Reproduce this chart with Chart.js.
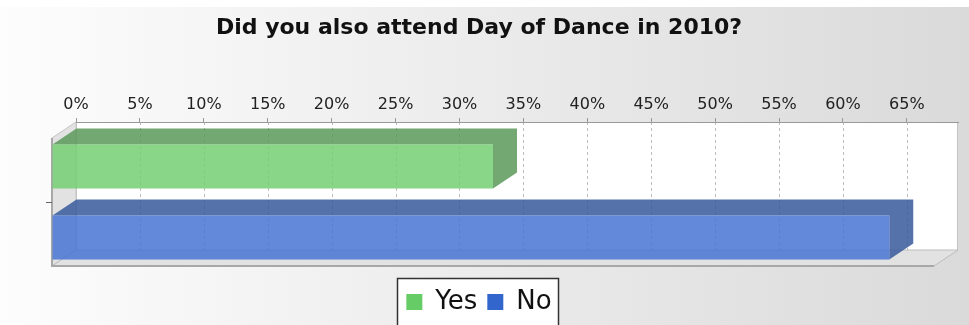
<!DOCTYPE html>
<html>
<head>
<meta charset="utf-8">
<script src="https://cdn.jsdelivr.net/npm/chart.js@4/dist/chart.umd.min.js"></script>
<style>
  html, body { margin: 0; padding: 0; background: #fff; }
</style>
</head>
<body>
<canvas id="attendChart" width="969" height="325"></canvas>
<script>
// survey answers and their share of responses (%)
const answers = ['Yes', 'No'];
const percents = [34.5, 65.5];
const tickValues = [0, 5, 10, 15, 20, 25, 30, 35, 40, 45, 50, 55, 60, 65];

const keyColors = ['#66cc66', '#3366cc'];
const frontColors = ['rgba(116, 207, 116, 0.85)', 'rgba(72, 116, 211, 0.85)'];
const shadeColors = ['rgba(91, 153, 91, 0.85)', 'rgba(55, 90, 155, 0.85)'];

// depth of the fake 3d box
const DX = 24, DY = 16;

function poly(ctx, pts, fill, stroke) {
  ctx.beginPath();
  pts.forEach((p, i) => i ? ctx.lineTo(p[0], p[1]) : ctx.moveTo(p[0], p[1]));
  ctx.closePath();
  if (fill) { ctx.fillStyle = fill; ctx.fill(); }
  if (stroke) { ctx.strokeStyle = stroke; ctx.stroke(); }
}

const box3d = {
  id: 'box3d',
  beforeDraw(chart) {
    const { ctx, width, height, chartArea: a } = chart;
    ctx.save();
    ctx.fillStyle = '#fff';
    ctx.fillRect(0, 0, width, height);
    const g = ctx.createLinearGradient(0, 0, width, 0);
    g.addColorStop(0, '#fdfdfd');
    g.addColorStop(1, '#dadada');
    ctx.fillStyle = g;
    ctx.fillRect(0, 7, width, height - 7);

    // back wall
    ctx.lineWidth = 1;
    ctx.fillStyle = '#fff';
    ctx.fillRect(a.left, a.top, a.right - a.left, a.bottom - a.top);
    ctx.strokeStyle = '#c4c4c4';
    ctx.strokeRect(a.left + 0.5, a.top + 0.5, a.right - a.left - 1, a.bottom - a.top);

    // dashed grid on the back wall
    const xs = chart.scales.x;
    ctx.setLineDash([3, 3]);
    ctx.strokeStyle = '#bdbdbd';
    tickValues.forEach(v => {
      if (v === 0) return;
      const px = Math.round(xs.getPixelForValue(v)) + 0.5;
      ctx.beginPath();
      ctx.moveTo(px, a.top);
      ctx.lineTo(px, a.bottom);
      ctx.stroke();
    });
    ctx.setLineDash([]);

    // left wall and floor
    poly(ctx, [[a.left - DX, a.top + DY], [a.left, a.top], [a.left, a.bottom], [a.left - DX, a.bottom + DY]], '#e2e2e2', '#c4c4c4');
    poly(ctx, [[a.left - DX, a.bottom + DY], [a.right - DX, a.bottom + DY], [a.right, a.bottom], [a.left, a.bottom]], '#e2e2e2', '#bdbdbd');
    ctx.strokeStyle = '#a8a8a8';
    ctx.lineWidth = 2;
    ctx.beginPath();
    ctx.moveTo(a.left - DX, a.top + DY);
    ctx.lineTo(a.left - DX, a.bottom + DY);
    ctx.lineTo(a.right - DX, a.bottom + DY);
    ctx.stroke();

    // category tick on the front edge
    const ys = chart.scales.y;
    const ty = Math.round(ys.getPixelForValue(0) + DY) + 0.5;
    ctx.lineWidth = 1;
    ctx.strokeStyle = '#666';
    ctx.beginPath();
    ctx.moveTo(a.left - DX - 6, ty);
    ctx.lineTo(a.left - DX, ty);
    ctx.stroke();

    // frame around the legend
    const hb = chart.legend.legendHitBoxes;
    if (hb && hb.length) {
      const last = hb[hb.length - 1];
      const l = Math.round(hb[0].left - 9) + 0.5;
      const r = Math.round(last.left + last.width + 6) + 0.5;
      const t = Math.round(hb[0].top - 11) + 0.5;
      ctx.fillStyle = '#fff';
      ctx.fillRect(l, t, r - l, height - t + 5);
      ctx.strokeStyle = '#333';
      ctx.lineWidth = 1.5;
      ctx.strokeRect(l, t, r - l, height - t + 5);
    }
    ctx.restore();
  },
  beforeDatasetsDraw(chart) {
    const ctx = chart.ctx;
    ctx.save();
    chart.data.datasets.forEach((ds, i) => {
      chart.getDatasetMeta(i).data.forEach(bar => {
        const { x, y, base, height: h } = bar.getProps(['x', 'y', 'base', 'height'], true);
        const top = y - h / 2, bot = y + h / 2;
        // top and end faces
        poly(ctx, [[base, top], [x, top], [x, bot], [x - DX, bot + DY], [x - DX, top + DY], [base - DX, top + DY]], shadeColors[i]);
        // front face
        ctx.fillStyle = frontColors[i];
        ctx.fillRect(base - DX, top + DY, x - base, h);
      });
    });
    ctx.restore();
    return false;
  }
};

new Chart(document.getElementById('attendChart'), {
  type: 'bar',
  data: {
    labels: [''],
    datasets: answers.map((name, i) => ({
      label: name,
      data: [percents[i]],
      backgroundColor: keyColors[i],
      borderWidth: 0,
      xAxisID: 'x',
      yAxisID: 'y',
      categoryPercentage: 1.11,
      barPercentage: 0.62
    }))
  },
  options: {
    indexAxis: 'y',
    responsive: false,
    animation: false,
    layout: { padding: { left: 0, right: 11, top: 0, bottom: 0 } },
    plugins: {
      title: {
        display: true,
        text: 'Did you also attend Day of Dance in 2010?',
        color: '#111',
        font: { family: 'DejaVu Sans', size: 22, weight: 'bold', lineHeight: 1 },
        padding: { top: 17, bottom: 11 }
      },
      legend: {
        position: 'bottom',
        labels: {
          boxWidth: 16,
          boxHeight: 16,
          padding: 10,
          color: '#111',
          font: { family: 'DejaVu Sans', size: 26 }
        }
      },
      tooltip: { enabled: false }
    },
    scales: {
      x: {
        position: 'top',
        min: 0,
        max: 69,
        afterBuildTicks: s => { s.ticks = tickValues.map(v => ({ value: v })); },
        afterFit: s => { s.height = 72; },
        ticks: {
          callback: v => v + '%',
          color: '#222',
          font: { family: 'DejaVu Sans', size: 16 },
          padding: 4,
          maxRotation: 0,
          autoSkip: false
        },
        grid: { drawOnChartArea: false, tickLength: 4, tickColor: '#999' },
        border: { color: '#999' }
      },
      y: {
        afterFit: s => { s.width = 76; },
        ticks: { display: false },
        grid: { display: false },
        border: { display: false }
      },
      gap: {
        type: 'linear',
        axis: 'x',
        position: 'bottom',
        afterFit: s => { s.height = 29; },
        ticks: { display: false },
        grid: { display: false },
        border: { display: false }
      }
    }
  },
  plugins: [box3d]
});
</script>
</body>
</html>
